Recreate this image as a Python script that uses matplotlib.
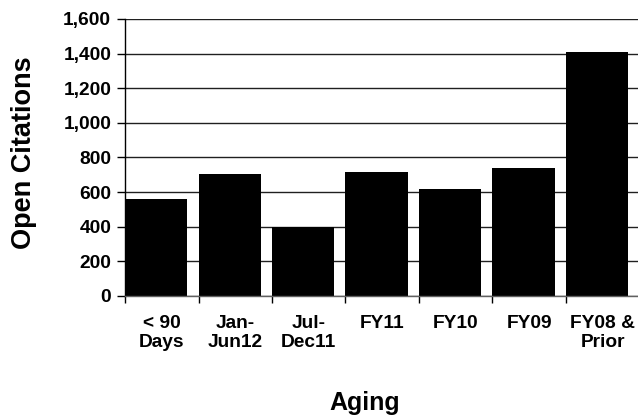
import numpy as np
from matplotlib import pyplot as plt
from matplotlib.ticker import FuncFormatter, MultipleLocator

# Open citations by age bucket
categorias = ['< 90\nDays', 'Jan-\nJun12', 'Jul-\nDec11', 'FY11', 'FY10', 'FY09', 'FY08 &\nPrior']
citaciones = [562, 703, 400, 718, 618, 742, 1409]

plt.rcParams['font.family'] = ['Liberation Sans', 'DejaVu Sans']
plt.rcParams['font.weight'] = 'bold'


def show_bar(x, y):
    fig = plt.figure(figsize=(6.38, 4.19), dpi=100)
    ax = fig.add_axes([0.196, 0.2936, 0.806, 0.6611])

    pos = np.arange(len(x))
    ax.set_axisbelow(True)
    ax.yaxis.grid(True, color='#202020', linewidth=1.0)
    ax.bar(pos - 0.5, y, width=0.85, align='edge', color='black')

    ax.set_xlim(-0.5, len(x) - 0.5)
    ax.set_ylim(0, 1600)
    ax.yaxis.set_major_locator(MultipleLocator(200))
    ax.yaxis.set_major_formatter(FuncFormatter(lambda v, p: f'{int(v):,}'))

    # labels centred in each category, tick marks on the boundaries
    ax.set_xticks(pos)
    ax.set_xticklabels(x, fontsize=13.8, fontweight='bold', linespacing=1.12)
    ax.set_xticks(np.arange(len(x) + 1) - 0.5, minor=True)
    ax.tick_params(axis='x', which='major', length=0, pad=14)
    ax.tick_params(axis='x', which='minor', length=5, width=1, direction='out')
    ax.tick_params(axis='y', length=6, width=1, direction='out', labelsize=13.8, pad=4)
    for lbl in ax.get_yticklabels():
        lbl.set_fontweight('bold')

    for lado in ['top', 'right']:
        ax.spines[lado].set_visible(False)
    ax.spines['left'].set_linewidth(1.0)
    ax.spines['bottom'].set_linewidth(1.0)
    ax.spines['bottom'].set_color('#606060')

    fig.text(0.037, 0.636, 'Open Citations', rotation=90, ha='center', va='center',
             fontsize=19.5, fontweight='bold')
    fig.text(0.572, 0.038, 'Aging', ha='center', va='center',
             fontsize=18, fontweight='bold')

    fig.savefig('out.png', dpi=100)


def main():
    show_bar(categorias, citaciones)


if __name__ == "__main__":
    main()
